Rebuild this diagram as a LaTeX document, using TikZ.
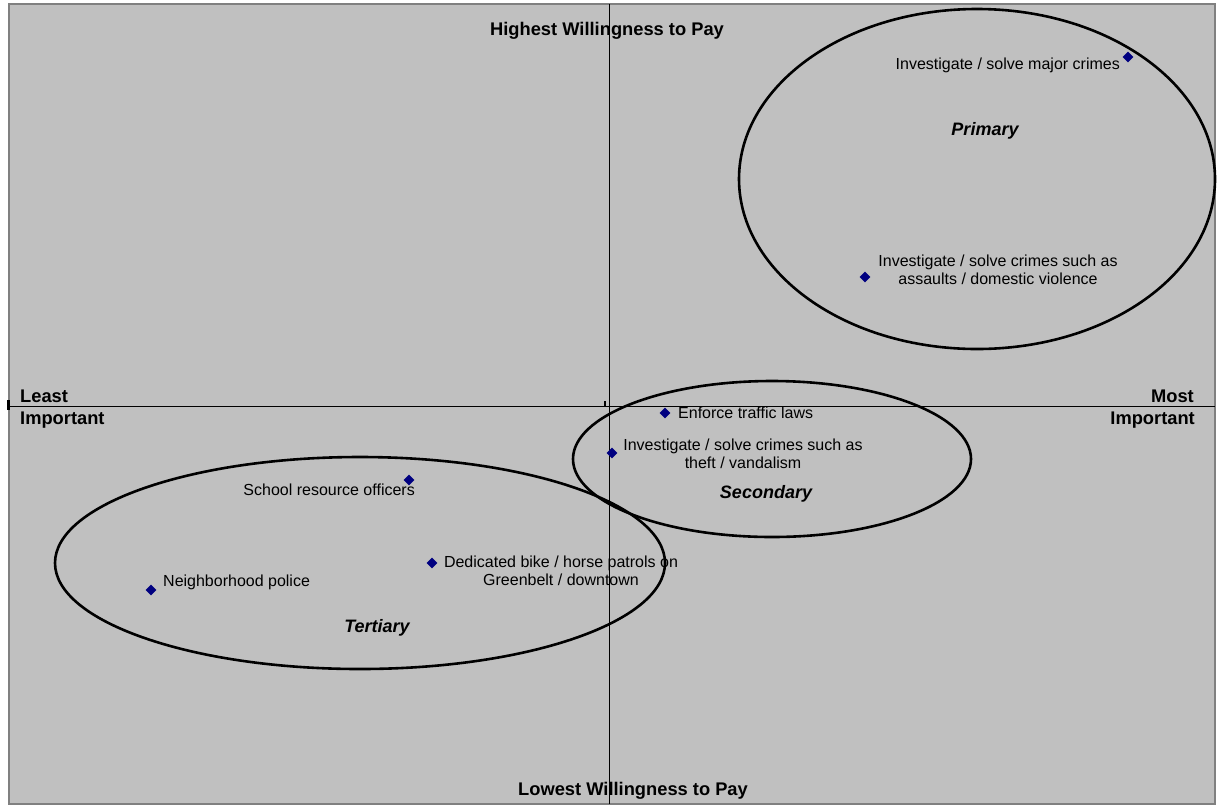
\documentclass[tikz,border=0pt]{standalone}
\usepackage{fontspec}
\setmainfont{Liberation Sans}
\usetikzlibrary{shapes.geometric}
\definecolor{plotgray}{RGB}{192,192,192}
\definecolor{framegray}{RGB}{128,128,128}
\definecolor{marknavy}{RGB}{0,0,128}
\tikzset{
  pt/.style={diamond,fill=marknavy,draw=none,inner sep=0pt,minimum size=11pt},
  lbl/.style={font=\fontsize{16}{18}\selectfont,inner sep=0pt,align=center},
  axlbl/.style={font=\fontsize{18.3}{20}\selectfont\bfseries,inner sep=0pt},
  grp/.style={font=\fontsize{18}{20}\selectfont\bfseries\itshape,inner sep=0pt},
  ring/.style={draw=black,line width=2.6pt},
  axis/.style={draw=black,line width=0.8pt}
}
\begin{document}
\begin{tikzpicture}[x=1pt,y=-1pt]
\useasboundingbox (0,0) rectangle (1220,807);
\fill[white] (0,0) rectangle (1220,807);
\fill[plotgray] (8,3) rectangle (1216,805);
\draw[framegray,line width=2pt] (9,4) rectangle (1215,804);
% axes
\coordinate (vt) at (609,4);
\coordinate (vb) at (609,804);
\coordinate (hl) at (9,406);
\coordinate (hr) at (1215,406);
\draw[axis] (vt) -- (vb);
\draw[axis] (hl) -- (hr);
\fill[black] (7,400) rectangle (10,410);
\fill[black] (604,401) rectangle (606,406);
% ellipses
\draw[ring] (977,179) ellipse [x radius=238,y radius=170];
\draw[ring] (772,459) ellipse [x radius=199,y radius=78];
\draw[ring] (360,563) ellipse [x radius=305,y radius=106];
% axis labels
\node[axlbl] (hi) at (607,31) {Highest Willingness to Pay};
\node[axlbl] (lo) at (633,791) {Lowest Willingness to Pay};
\node[axlbl,anchor=west] (least) at (20,396) {Least};
\node[axlbl,anchor=west] (limp) at (20,420) {Important};
\node[axlbl,anchor=east] (most) at (1194,396) {Most};
\node[axlbl,anchor=east] (mimp) at (1195,420) {Important};
% group labels
\node[grp] (prim) at (985,131) {Primary};
\node[grp] (sec) at (766,494) {Secondary};
\node[grp] (ter) at (377,628) {Tertiary};
% points
\node[pt] (p1) at (1128,57) {};
\node[pt] (p2) at (865,277) {};
\node[pt] (p3) at (665,413) {};
\node[pt] (p4) at (612,453) {};
\node[pt] (p5) at (409,480) {};
\node[pt] (p6) at (432,563) {};
\node[pt] (p7) at (151,590) {};
% point labels
\node[lbl,anchor=east] (l1) at (1120,65) {Investigate / solve major crimes};
\node[lbl] (l2) at (998,270) {Investigate / solve crimes such as\\assaults / domestic violence};
\node[lbl,anchor=west] (l3) at (678,413) {Enforce traffic laws};
\node[lbl] (l4) at (743,454) {Investigate / solve crimes such as\\theft / vandalism};
\node[lbl,anchor=east] (l5) at (415,490) {School resource officers};
\node[lbl] (l6) at (561,571) {Dedicated bike / horse patrols on\\Greenbelt / downtown};
\node[lbl,anchor=west] (l7) at (163,582) {Neighborhood police};
\end{tikzpicture}
\end{document}
